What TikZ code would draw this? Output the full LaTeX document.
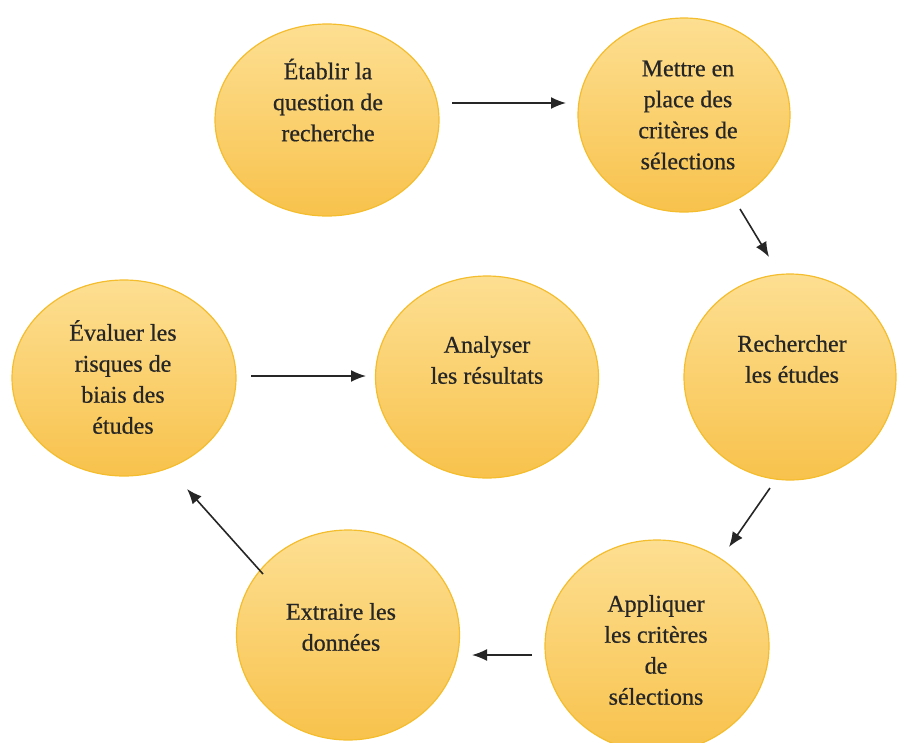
\documentclass[tikz,border=0pt]{standalone}
\usepackage{fontspec}
\setmainfont{Liberation Serif}[BoldFont=Liberation Serif, BoldFeatures={FakeBold=0.6}]
\usetikzlibrary{shapes.geometric,arrows.meta}
\definecolor{ftop}{HTML}{FDDF92}
\definecolor{fbot}{HTML}{F8C24C}
\definecolor{bord}{HTML}{F4BD2E}
\tikzset{
  bubble/.style={ellipse, draw=bord, line width=1.2pt, top color=ftop, bottom color=fbot, inner sep=0pt},
  lbl/.style={align=center, font=\fontsize{24}{31}\selectfont\bfseries, text=black!85},
  arr/.style={-{Latex[length=15pt,width=12pt]}, line width=1.6pt, black!85}
}
\begin{document}
\begin{tikzpicture}[x=1pt,y=-1pt]
\useasboundingbox (0,0) rectangle (897,742);
% ellipses
\node[bubble, minimum width=224pt, minimum height=192pt] (e1) at (327,120) {};
\node[bubble, minimum width=212pt, minimum height=194pt] (e2) at (684,115) {};
\node[bubble, minimum width=212pt, minimum height=206pt] (e3) at (790,377) {};
\node[bubble, minimum width=224pt, minimum height=212pt] (e4) at (657,646) {};
\node[bubble, minimum width=223pt, minimum height=210pt] (e5) at (348,635) {};
\node[bubble, minimum width=224pt, minimum height=196pt] (e6) at (124,378) {};
\node[bubble, minimum width=223pt, minimum height=202pt] (e7) at (487,377) {};
% labels
\node[lbl] (t1) at (328,100) {Établir la\\question de\\recherche};
\node[lbl] (t2) at (688,115) {Mettre en\\place des\\critères de\\sélections};
\node[lbl] (t3) at (792,359) {Rechercher\\les études};
\node[lbl] (t4) at (656,650) {Appliquer\\les critères\\de\\sélections};
\node[lbl] (t5) at (341,627) {Extraire les\\données};
\node[lbl] (t6) at (123,377) {Évaluer les\\risques de\\biais des\\études};
\node[lbl] (t7) at (487,360) {Analyser\\les résultats};
% arrow endpoints
\coordinate (a1s) at (452,103); \coordinate (a1e) at (566,103);
\coordinate (a2s) at (740,209); \coordinate (a2e) at (769,257);
\coordinate (a3s) at (770,488); \coordinate (a3e) at (729,547);
\coordinate (a4s) at (532,655); \coordinate (a4e) at (472,655);
\coordinate (a5s) at (263,574); \coordinate (a5e) at (187,489);
\coordinate (a6s) at (251,376); \coordinate (a6e) at (366,376);
\draw[arr] (a1s) -- (a1e);
\draw[arr] (a2s) -- (a2e);
\draw[arr] (a3s) -- (a3e);
\draw[arr] (a4s) -- (a4e);
\draw[arr] (a5s) -- (a5e);
\draw[arr] (a6s) -- (a6e);
\end{tikzpicture}
\end{document}
